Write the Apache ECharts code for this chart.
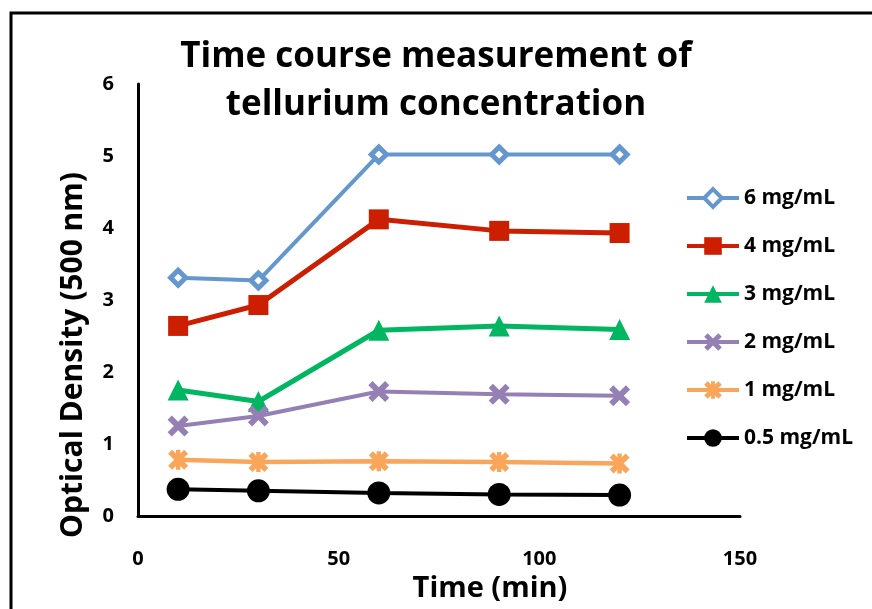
<!DOCTYPE html>
<html>
<head>
<meta charset="utf-8">
<script src="https://cdn.jsdelivr.net/npm/echarts@6/dist/echarts.min.js"></script>
<style>
  html, body { margin: 0; padding: 0; background: #fff; }
  #chart { width: 872px; height: 609px; }
</style>
</head>
<body>
<div id="chart"></div>
<script>
// Sampling times (min)
const times = [10, 30, 60, 90, 120];

// Optical density at 500 nm for each tellurium concentration
const od6 = [3.31, 3.27, 5.02, 5.02, 5.02];
const od4 = [2.64, 2.93, 4.12, 3.96, 3.93];
const od3 = [1.75, 1.59, 2.58, 2.64, 2.59];
const od2 = [1.25, 1.39, 1.73, 1.69, 1.67];
const od1 = [0.78, 0.75, 0.76, 0.75, 0.73];
const od05 = [0.37, 0.35, 0.32, 0.30, 0.29];

const seriesNames = ['6 mg/mL', '4 mg/mL', '3 mg/mL', '2 mg/mL', '1 mg/mL', '0.5 mg/mL'];
const xTicks = [0, 50, 100, 150];
const yTicks = [0, 1, 2, 3, 4, 5, 6];

const FONT = '"Open Sans", "DejaVu Sans", sans-serif';

// Custom marker shapes: a bold cross and a cross with a vertical bar
const crossPath = 'path://M0,2 L2,0 L5,3 L8,0 L10,2 L7,5 L10,8 L8,10 L5,7 L2,10 L0,8 L3,5 Z';
const starPath = 'path://M0,2 L2,0 L5,3 L8,0 L10,2 L7,5 L10,8 L8,10 L5,7 L2,10 L0,8 L3,5 Z M3.9,0 L6.1,0 L6.1,10 L3.9,10 Z';

function pairs(values) {
  return times.map((t, i) => [t, values[i]]);
}

function makeSeries(name, values, color, symbol, size, width, extra) {
  return Object.assign({
    name: name,
    type: 'line',
    data: pairs(values),
    symbol: symbol,
    symbolSize: size,
    showAllSymbol: true,
    lineStyle: { color: color, width: width },
    itemStyle: { color: color, borderColor: color, borderWidth: 0 },
    emphasis: { disabled: true },
    z: 2
  }, extra || {});
}

// Legend entries; the hollow diamond keeps a thick outline in the key too
const legendItems = seriesNames.map((n, i) =>
  i === 0 ? { name: n, itemStyle: { borderWidth: 4 } } : { name: n });

const chart = echarts.init(document.getElementById('chart'), null, { renderer: 'canvas' });

chart.setOption({
  backgroundColor: '#ffffff',
  animation: false,
  title: {
    text: 'Time course measurement of\ntellurium concentration',
    left: 'center',
    top: 33,
    padding: 0,
    textStyle: {
      fontFamily: FONT,
      fontWeight: 'bold',
      fontSize: 35,
      lineHeight: 48,
      color: '#000'
    }
  },
  legend: {
    orient: 'vertical',
    left: 680,
    top: 182,
    itemWidth: 52,
    itemHeight: 22,
    itemGap: 26,
    data: legendItems,
    lineStyle: { width: 4 },
    textStyle: {
      fontFamily: FONT,
      fontWeight: 'bold',
      fontSize: 21,
      lineHeight: 22,
      color: '#000'
    }
  },
  grid: {
    left: 138,
    right: 132,
    top: 84,
    bottom: 93,
    containLabel: false
  },
  xAxis: {
    type: 'value',
    min: xTicks[0],
    max: xTicks[xTicks.length - 1],
    interval: 50,
    name: 'Time (min)',
    nameLocation: 'middle',
    nameGap: 58,
    nameTextStyle: {
      fontFamily: FONT,
      fontWeight: 'bold',
      fontSize: 29,
      color: '#000',
      padding: [0, 0, 0, 102]
    },
    axisLine: { show: true, onZero: false, lineStyle: { color: '#000', width: 3 } },
    axisTick: { show: false },
    splitLine: { show: false },
    axisLabel: {
      margin: 33,
      fontFamily: FONT,
      fontWeight: 'bold',
      fontSize: 20,
      color: '#000'
    }
  },
  yAxis: {
    type: 'value',
    min: yTicks[0],
    max: yTicks[yTicks.length - 1],
    interval: 1,
    name: 'Optical Density (500 nm)',
    nameLocation: 'middle',
    nameGap: 50,
    nameTextStyle: {
      fontFamily: FONT,
      fontWeight: 'bold',
      fontSize: 30,
      color: '#000',
      padding: [0, 110, 0, 0]
    },
    axisLine: { show: true, lineStyle: { color: '#000', width: 3 } },
    axisTick: { show: false },
    splitLine: { show: false },
    axisLabel: {
      margin: 24,
      fontFamily: FONT,
      fontWeight: 'bold',
      fontSize: 20,
      color: '#000'
    }
  },
  graphic: [
    {
      type: 'rect',
      silent: true,
      shape: { x: 11, y: 13, width: 900, height: 700 },
      style: { fill: 'none', stroke: '#000', lineWidth: 3 }
    }
  ],
  series: [
    // hollow diamond: white fill with a thick blue outline
    makeSeries(seriesNames[0], od6, '#6497CD', 'diamond', 15, 4,
      { itemStyle: { color: '#ffffff', borderColor: '#6497CD', borderWidth: 5 } }),
    makeSeries(seriesNames[1], od4, '#CC1E00', 'rect', 20, 5),
    makeSeries(seriesNames[2], od3, '#00B661', 'triangle', 21, 5),
    makeSeries(seriesNames[3], od2, '#9480B4', crossPath, 21, 4),
    makeSeries(seriesNames[4], od1, '#F9A65A', starPath, 20, 4.5),
    makeSeries(seriesNames[5], od05, '#000000', 'circle', 23, 4)
  ]
});
</script>
</body>
</html>
